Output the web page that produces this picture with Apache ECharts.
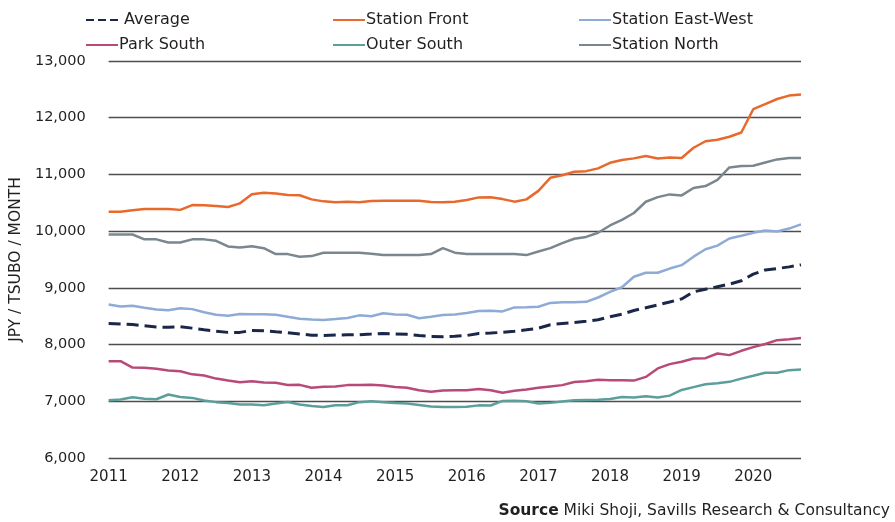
<!DOCTYPE html>
<html>
<head>
<meta charset="utf-8">
<script src="https://cdn.jsdelivr.net/npm/echarts@6/dist/echarts.min.js"></script>
<style>
  html, body { margin: 0; padding: 0; background: #fff; }
  #chart { width: 895px; height: 522px; }
</style>
</head>
<body>
<div id="chart"></div>
<script>
// bi-monthly readings, Jan 2011 .. Sep 2020
const years = [2011, 2012, 2013, 2014, 2015, 2016, 2017, 2018, 2019, 2020]
const months = ['Jan', 'Mar', 'May', 'Jul', 'Sep', 'Nov']

const average = [8373, 8362, 8352, 8330, 8310, 8305, 8315, 8290, 8262, 8235, 8215, 8215,
  8250, 8245, 8225, 8209, 8188, 8165, 8160, 8168, 8172, 8174, 8185, 8197,
  8186, 8180, 8160, 8142, 8138, 8145, 8160, 8197, 8205, 8215, 8235, 8260,
  8288, 8350, 8372, 8390, 8412, 8437, 8490, 8535, 8600, 8650, 8700, 8750,
  8805, 8930, 8975, 9020, 9065, 9125, 9243, 9315, 9340, 9370, 9405]
const stationFront = [10342, 10342, 10370, 10389, 10389, 10389, 10375, 10460, 10455, 10442, 10425, 10490,
  10650, 10675, 10665, 10636, 10632, 10560, 10525, 10510, 10518, 10510, 10530, 10536,
  10536, 10536, 10536, 10515, 10510, 10518, 10550, 10595, 10598, 10565, 10520, 10560,
  10710, 10940, 10985, 11047, 11058, 11107, 11205, 11255, 11283, 11324, 11280, 11300,
  11290, 11470, 11585, 11610, 11665, 11740, 12150, 12240, 12330, 12390, 12410]
const stationEastWest = [8708, 8670, 8684, 8650, 8620, 8605, 8640, 8625, 8570, 8526, 8510, 8540,
  8536, 8536, 8526, 8490, 8455, 8440, 8435, 8450, 8470, 8515, 8500, 8552,
  8530, 8526, 8465, 8490, 8520, 8532, 8555, 8592, 8598, 8585, 8655, 8660,
  8667, 8735, 8748, 8745, 8754, 8830, 8930, 9010, 9195, 9266, 9266, 9340,
  9400, 9550, 9680, 9745, 9870, 9919, 9970, 10010, 9995, 10045, 10119]
const parkSouth = [7708, 7708, 7595, 7590, 7572, 7541, 7530, 7475, 7455, 7400, 7365, 7335,
  7352, 7330, 7325, 7288, 7290, 7238, 7255, 7260, 7285, 7285, 7290, 7280,
  7252, 7240, 7195, 7167, 7190, 7196, 7196, 7215, 7196, 7152, 7185, 7208,
  7238, 7262, 7285, 7340, 7355, 7380, 7373, 7370, 7365, 7430, 7579, 7655,
  7697, 7755, 7760, 7843, 7814, 7890, 7955, 8010, 8078, 8095, 8114]
const outerSouth = [7020, 7030, 7070, 7045, 7036, 7120, 7076, 7060, 7015, 6985, 6968, 6945,
  6945, 6932, 6960, 6988, 6945, 6918, 6900, 6932, 6930, 6985, 7000, 6985,
  6970, 6960, 6935, 6910, 6900, 6900, 6905, 6928, 6925, 7006, 7010, 7000,
  6960, 6972, 6998, 7018, 7022, 7026, 7040, 7075, 7065, 7090, 7065, 7100,
  7200, 7250, 7300, 7320, 7343, 7400, 7450, 7502, 7502, 7549, 7561]
const stationNorth = [9941, 9941, 9941, 9855, 9855, 9800, 9800, 9855, 9855, 9830, 9730, 9713,
  9735, 9700, 9595, 9595, 9548, 9560, 9618, 9618, 9618, 9618, 9600, 9580,
  9578, 9578, 9578, 9595, 9700, 9620, 9595, 9595, 9595, 9595, 9595, 9578,
  9640, 9700, 9790, 9865, 9898, 9971, 10100, 10200, 10320, 10518, 10600, 10648,
  10630, 10760, 10795, 10905, 11124, 11150, 11154, 11210, 11265, 11289, 11289]

const categories = []
years.forEach(y => months.forEach(m => categories.push(m + ' ' + y)))
categories.length = average.length

const font = 'DejaVu Sans'
const textColor = '#231f20'

const seriesDefs = [
  { name: ' Average', data: average, color: '#1b2748', type: 'dashed' },
  { name: 'Station Front', data: stationFront, color: '#e8692c' },
  { name: 'Station East-West', data: stationEastWest, color: '#8eaad6' },
  { name: 'Park South', data: parkSouth, color: '#b84a78' },
  { name: 'Outer South', data: outerSouth, color: '#5c9e9c' },
  { name: 'Station North', data: stationNorth, color: '#7b878f' }
]

// legend spots, 3 columns x 2 rows
const legendPos = [[80, 7], [327, 7], [573, 7], [80, 32], [327, 32], [573, 32]]

const chart = echarts.init(document.getElementById('chart'))

chart.setOption({
  animation: false,
  backgroundColor: '#fff',
  textStyle: { fontFamily: font },
  legend: seriesDefs.map((s, i) => ({
    data: [s.name],
    left: legendPos[i][0],
    top: legendPos[i][1],
    itemWidth: 32,
    itemHeight: 14,
    itemGap: 0,
    itemStyle: { opacity: 0 },
    textStyle: { fontFamily: font, fontSize: 16, color: textColor, padding: [0, 0, 0, -4] }
  })),
  grid: { left: 108, right: 94, top: 61, bottom: 64 },
  xAxis: {
    type: 'category',
    data: categories,
    boundaryGap: false,
    axisLine: { show: false },
    axisTick: { show: false },
    axisLabel: {
      interval: (idx) => idx % 6 === 0,
      formatter: (v) => v.split(' ')[1],
      fontFamily: font,
      fontSize: 15,
      color: textColor,
      margin: 12
    }
  },
  yAxis: {
    type: 'value',
    min: 6000,
    max: 13000,
    interval: 1000,
    name: 'JPY / TSUBO / MONTH',
    nameLocation: 'middle',
    nameGap: 84,
    nameTextStyle: { fontFamily: font, fontSize: 15.5, color: textColor },
    axisLine: { show: false },
    axisTick: { show: false },
    axisLabel: {
      formatter: (v) => v.toLocaleString('en-US'),
      fontFamily: font,
      fontSize: 14.5,
      color: textColor,
      margin: 23
    },
    splitLine: { lineStyle: { color: '#4d4d4d', width: 1.3 } }
  },
  series: seriesDefs.map(s => ({
    name: s.name,
    type: 'line',
    data: s.data,
    symbol: 'none',
    color: s.color,
    lineStyle: { color: s.color, width: s.type ? 3 : 2.5, type: s.type || 'solid' }
  })),
  graphic: [{
    type: 'text',
    right: 5,
    bottom: 3,
    style: {
      text: '{b|Source} Miki Shoji, Savills Research & Consultancy',
      rich: {
        b: { fontFamily: font, fontSize: 15.5, fontWeight: 'bold', fill: textColor }
      },
      font: '15.5px "DejaVu Sans"',
      fill: textColor
    }
  }]
})
</script>
</body>
</html>
